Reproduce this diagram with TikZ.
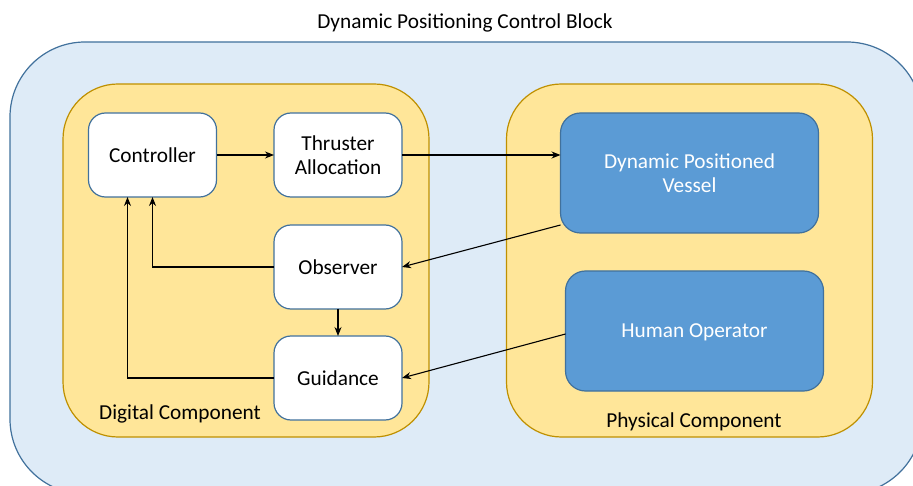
\documentclass[tikz,border=0pt]{standalone}
\usepackage{fontspec}
\setmainfont{Carlito}
\usetikzlibrary{arrows.meta}
\definecolor{outerfill}{HTML}{DEEBF7}
\definecolor{outerdraw}{HTML}{41719C}
\definecolor{groupfill}{HTML}{FFE699}
\definecolor{groupdraw}{HTML}{BF9000}
\definecolor{bluefill}{HTML}{5B9BD5}
\definecolor{bluedraw}{HTML}{41719C}
\tikzset{
  lbl/.style={font=\fontsize{21.3}{24}\selectfont, inner sep=0pt, outer sep=0pt, align=center},
  flat/.style={text depth=0pt},
  whitebox/.style={lbl, draw=bluedraw, fill=white, line width=1.2pt, rounded corners=17pt,
    minimum width=128pt, minimum height=84pt},
  bluebox/.style={lbl, text=white, draw=bluedraw, fill=bluefill, line width=1.2pt, rounded corners=20pt,
    minimum width=258pt, minimum height=120pt},
  group/.style={draw=groupdraw, fill=groupfill, line width=1.2pt, rounded corners=55pt,
    inner sep=0pt, outer sep=0pt, minimum width=366pt, minimum height=353pt},
  conn/.style={line width=1.1pt, -{Stealth[length=9pt,width=7pt]}},
}
\begin{document}
\begin{tikzpicture}[x=1pt,y=-1pt]
\useasboundingbox (0,0) rectangle (913,486);
\begin{scope}
\clip (0,0) rectangle (913,486);
% outer control block, partly running past the page edge
\node[draw=outerdraw, fill=outerfill, line width=1.2pt, rounded corners=75pt,
  inner sep=0pt, outer sep=0pt, minimum width=912pt, minimum height=452pt] (block) at (466,268) {};
\end{scope}
\node[lbl, flat] (title) at (465,21) {Dynamic Positioning Control Block};
% component groups
\node[group] (digitalgrp) at (246,260.5) {};
\node[group] (physicalgrp) at (689.5,260.5) {};
\node[lbl, flat] (digital) at (180,412) {Digital Component};
\node[lbl, flat] (physical) at (694,420) {Physical Component};
% digital blocks
\node[whitebox] (ctrl) at (152.5,155) {Controller};
\node[whitebox] (thr) at (338,155) {Thruster\\Allocation};
\node[whitebox] (obs) at (338,267) {Observer};
\node[whitebox] (gui) at (338,378) {Guidance};
% physical blocks
\node[bluebox] (ves) at (689.5,173) {Dynamic Positioned\\Vessel};
\node[bluebox, flat] (hum) at (694.5,331) {Human Operator};
% connectors
\draw[conn] (ctrl.east) -- (thr.west);
\draw[conn] (thr.east) -- (thr.east -| ves.west);
\draw[conn] ([yshift=8pt]ves.south west) -- (obs.east);
\draw[conn] ([yshift=-3pt]hum.west) -- (gui.east);
\draw[conn] (obs.south) -- (gui.north);
\draw[conn] (obs.west) -| (ctrl.south);
\draw[conn] (gui.west) -| ([xshift=-25pt]ctrl.south);
\end{tikzpicture}
\end{document}
